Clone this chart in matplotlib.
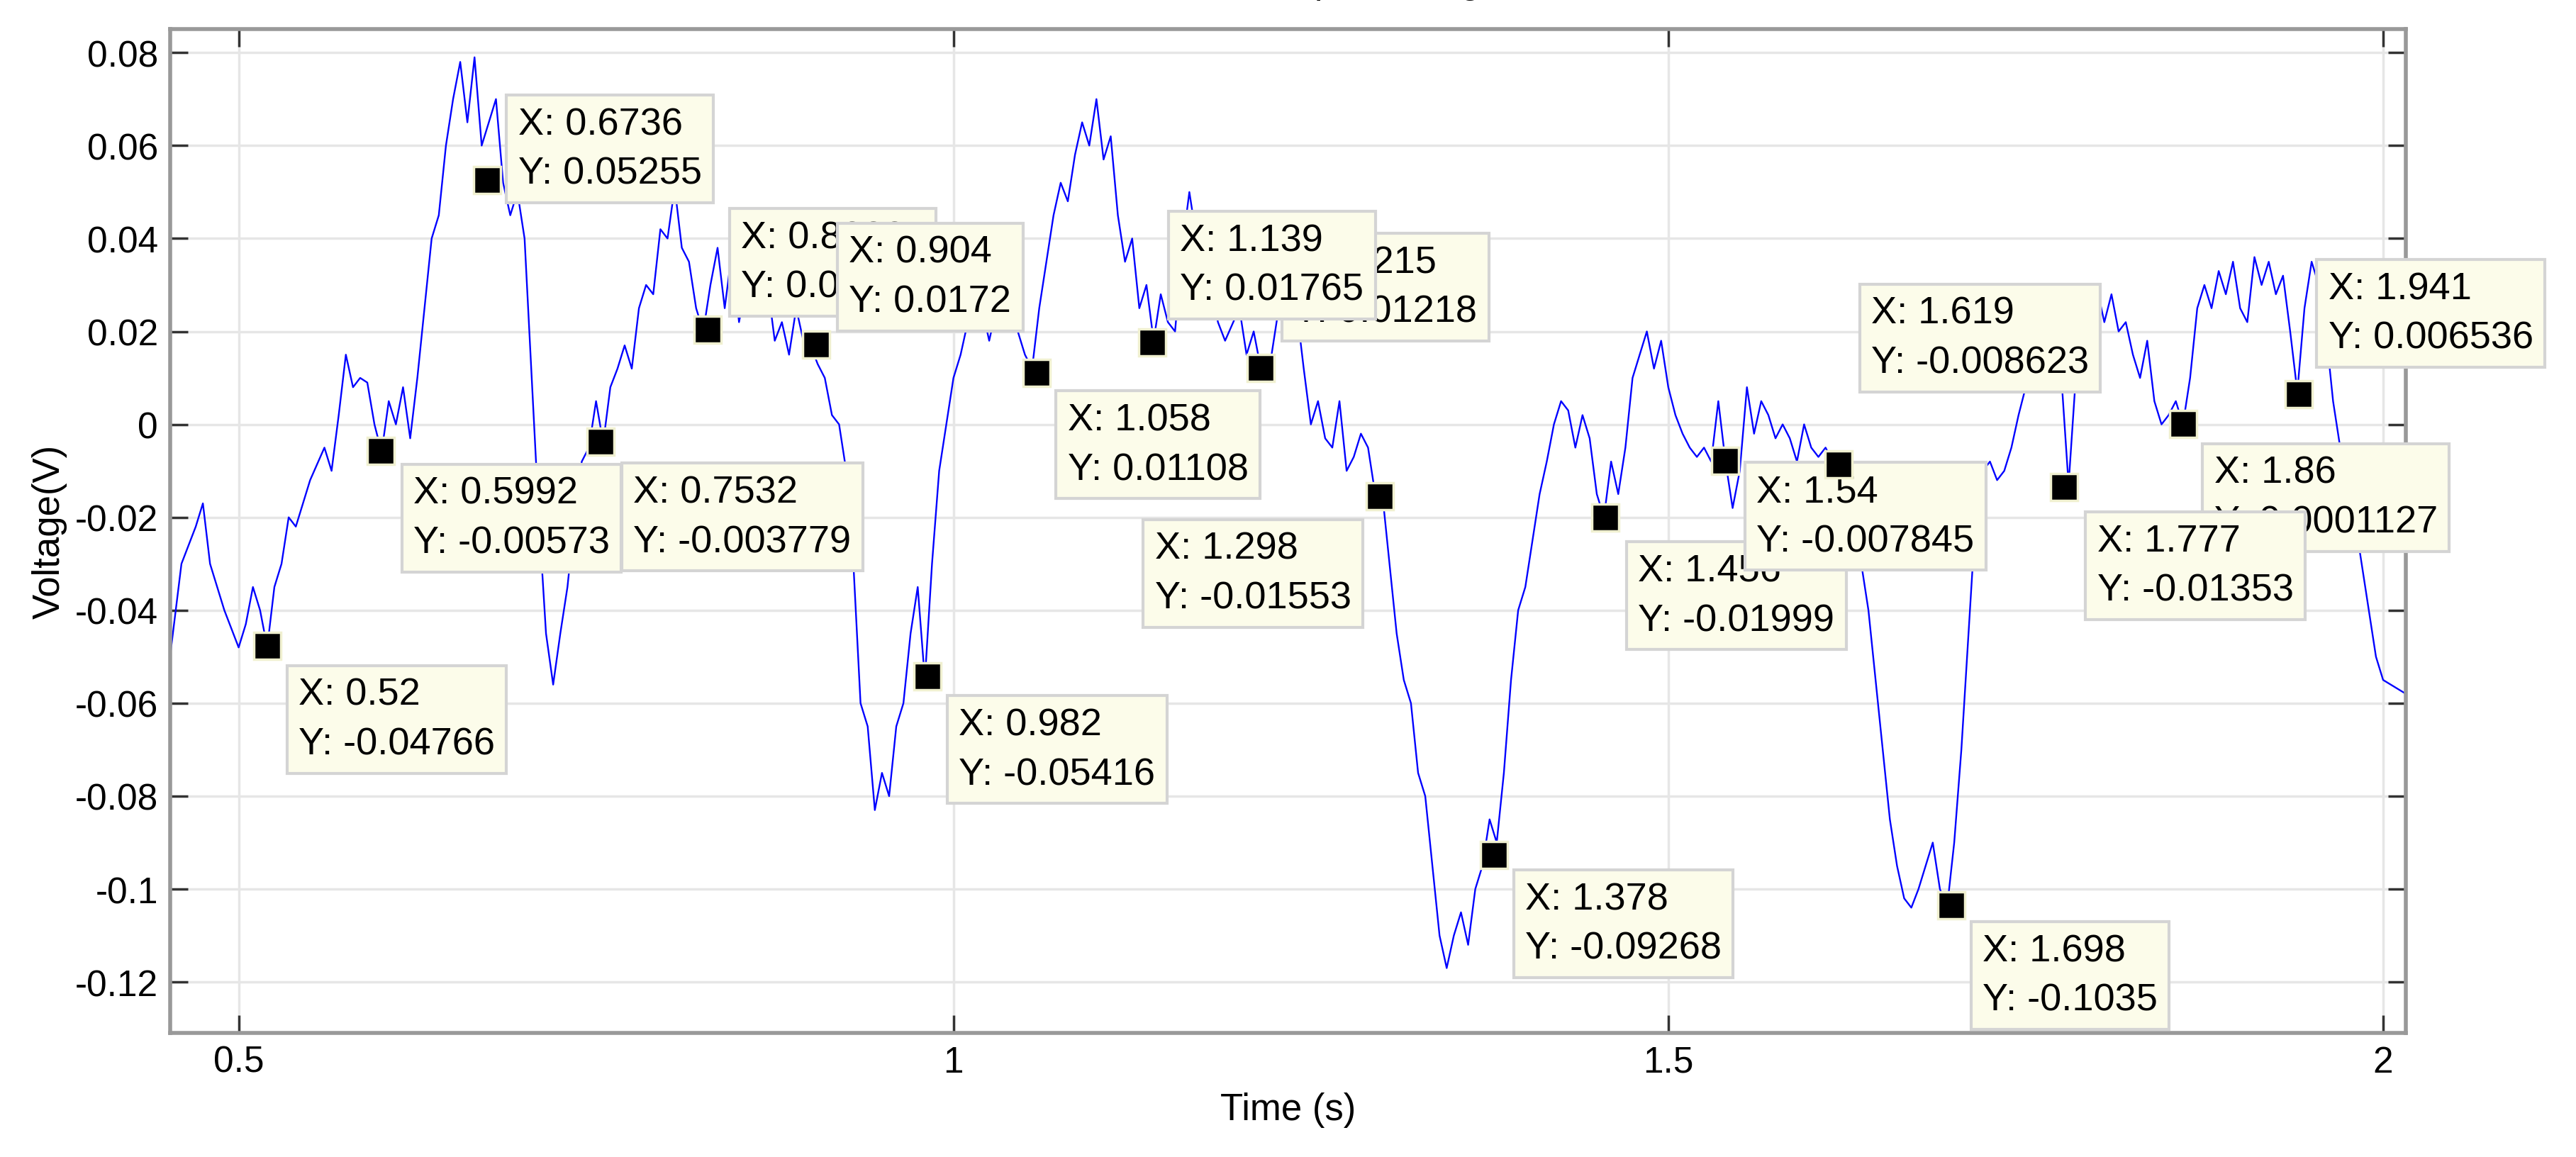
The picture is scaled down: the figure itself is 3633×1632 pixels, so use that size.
import matplotlib
matplotlib.use("Agg")
import matplotlib.pyplot as plt

plt.rcParams['font.family'] = ['Liberation Sans', 'DejaVu Sans']

time_s = [0.452,0.46,0.47,0.475,0.48,0.49,0.50,0.505,0.51,0.515,0.52,0.525,0.53,0.535,0.54,0.55,0.56,0.565,0.57,0.575,0.58,0.585,0.59,0.595,0.60,0.605,0.61,0.615,0.62,0.625,0.63,0.635,0.64,0.645,0.65,0.655,0.66,0.665,0.67,0.675,0.68,0.685,0.69,0.695,0.70,0.705,0.71,0.715,0.72,0.725,0.73,0.735,0.74,0.745,0.75,0.755,0.76,0.765,0.77,0.775,0.78,0.785,0.79,0.795,0.80,0.805,0.81,0.815,0.82,0.825,0.83,0.835,0.84,0.845,0.85,0.855,0.86,0.87,0.875,0.88,0.885,0.89,0.895,0.90,0.905,0.91,0.915,0.92,0.925,0.93,0.935,0.94,0.945,0.95,0.955,0.96,0.965,0.97,0.975,0.98,0.985,0.99,0.995,1.00,1.005,1.01,1.015,1.02,1.025,1.03,1.035,1.04,1.045,1.05,1.055,1.06,1.065,1.07,1.075,1.08,1.085,1.09,1.095,1.10,1.105,1.11,1.115,1.12,1.125,1.13,1.135,1.14,1.145,1.15,1.155,1.16,1.165,1.17,1.175,1.18,1.185,1.19,1.20,1.205,1.21,1.215,1.22,1.225,1.23,1.24,1.245,1.25,1.255,1.26,1.265,1.27,1.275,1.28,1.285,1.29,1.295,1.30,1.305,1.31,1.315,1.32,1.325,1.33,1.335,1.34,1.345,1.35,1.355,1.36,1.365,1.37,1.375,1.38,1.385,1.39,1.395,1.40,1.405,1.41,1.415,1.42,1.425,1.43,1.435,1.44,1.445,1.45,1.455,1.46,1.465,1.47,1.475,1.48,1.485,1.49,1.495,1.50,1.505,1.51,1.515,1.52,1.525,1.53,1.535,1.54,1.545,1.55,1.555,1.56,1.565,1.57,1.575,1.58,1.585,1.59,1.595,1.60,1.605,1.61,1.615,1.62,1.625,1.63,1.635,1.64,1.645,1.65,1.655,1.66,1.665,1.67,1.675,1.68,1.685,1.69,1.695,1.70,1.705,1.71,1.715,1.72,1.725,1.73,1.735,1.74,1.745,1.75,1.755,1.76,1.765,1.77,1.775,1.78,1.785,1.79,1.795,1.80,1.805,1.81,1.815,1.82,1.825,1.83,1.835,1.84,1.845,1.85,1.855,1.86,1.865,1.87,1.875,1.88,1.885,1.89,1.895,1.90,1.905,1.91,1.915,1.92,1.925,1.93,1.935,1.94,1.945,1.95,1.955,1.96,1.965,1.97,1.975,1.98,1.985,1.99,1.995,2.00,2.016]
voltage = [-0.050,-0.030,-0.022,-0.017,-0.030,-0.040,-0.048,-0.043,-0.035,-0.040,-0.048,-0.035,-0.030,-0.020,-0.022,-0.012,-0.005,-0.010,0.002,0.015,0.008,0.010,0.009,0.0,-0.006,0.005,0.0,0.008,-0.003,0.010,0.025,0.040,0.045,0.060,0.070,0.078,0.065,0.079,0.060,0.065,0.070,0.052,0.045,0.050,0.040,0.010,-0.020,-0.045,-0.056,-0.045,-0.035,-0.020,-0.008,-0.005,0.005,-0.004,0.008,0.012,0.017,0.012,0.025,0.030,0.028,0.042,0.040,0.051,0.038,0.035,0.025,0.020,0.030,0.038,0.025,0.037,0.022,0.030,0.025,0.030,0.018,0.022,0.015,0.025,0.018,0.017,0.013,0.010,0.002,0.0,-0.010,-0.030,-0.060,-0.065,-0.083,-0.075,-0.080,-0.065,-0.060,-0.045,-0.035,-0.055,-0.030,-0.010,0.0,0.010,0.015,0.022,0.020,0.025,0.018,0.025,0.022,0.028,0.020,0.015,0.012,0.025,0.035,0.045,0.052,0.048,0.058,0.065,0.060,0.070,0.057,0.062,0.045,0.035,0.040,0.025,0.030,0.018,0.028,0.022,0.020,0.038,0.050,0.040,0.035,0.030,0.022,0.018,0.025,0.015,0.020,0.012,0.010,0.020,0.030,0.025,0.012,0.0,0.005,-0.003,-0.005,0.005,-0.010,-0.007,-0.002,-0.005,-0.015,-0.015,-0.030,-0.045,-0.055,-0.060,-0.075,-0.080,-0.095,-0.110,-0.117,-0.110,-0.105,-0.112,-0.100,-0.095,-0.085,-0.090,-0.075,-0.055,-0.040,-0.035,-0.025,-0.015,-0.008,0.0,0.005,0.003,-0.005,0.002,-0.003,-0.015,-0.020,-0.008,-0.015,-0.005,0.010,0.015,0.020,0.012,0.018,0.008,0.002,-0.002,-0.005,-0.007,-0.005,-0.008,0.005,-0.008,-0.018,-0.010,0.008,-0.002,0.005,0.002,-0.003,0.0,-0.003,-0.008,0.0,-0.005,-0.007,-0.005,-0.008,-0.012,-0.015,-0.025,-0.030,-0.040,-0.055,-0.070,-0.085,-0.095,-0.102,-0.104,-0.100,-0.095,-0.090,-0.100,-0.104,-0.090,-0.070,-0.045,-0.020,-0.010,-0.008,-0.012,-0.010,-0.005,0.002,0.008,0.010,0.020,0.018,0.022,0.010,-0.013,0.010,0.020,0.025,0.029,0.022,0.028,0.020,0.022,0.015,0.010,0.018,0.005,0.000,0.002,0.005,0.0,0.010,0.025,0.030,0.025,0.033,0.028,0.035,0.025,0.022,0.036,0.030,0.035,0.028,0.032,0.020,0.007,0.025,0.035,0.030,0.020,0.005,-0.005,-0.010,-0.020,-0.030,-0.040,-0.050,-0.055,-0.058]

tip_x = [0.52, 0.5992, 0.6736, 0.7532, 0.8283, 0.904, 0.982, 1.058, 1.215, 1.139, 1.298, 1.378, 1.456, 1.54, 1.619, 1.698, 1.86, 1.777, 1.941]
tip_y = [-0.04766, -0.00573, 0.05255, -0.003779, 0.02032, 0.0172, -0.05416, 0.01108, 0.01218, 0.01765, -0.01553, -0.09268, -0.01999, -0.007845, -0.008623, -0.1035, 0.0001127, -0.01353, 0.006536]
tip_x_text = ['0.52', '0.5992', '0.6736', '0.7532', '0.8283', '0.904', '0.982', '1.058', '1.215', '1.139', '1.298', '1.378', '1.456', '1.54', '1.619', '1.698', '1.86', '1.777', '1.941']
tip_y_text = ['-0.04766', '-0.00573', '0.05255', '-0.003779', '0.02032', '0.0172', '-0.05416', '0.01108', '0.01218', '0.01765', '-0.01553', '-0.09268', '-0.01999', '-0.007845', '-0.008623', '-0.1035', '0.0001127', '-0.01353', '0.006536']
# box top-left offsets from marker (reference display px)
box_dx = [12, 13, 12, 13, 13, 13, 12, 12, 13, 10, -144, 12, 13, 12, 13, 12, 12, 13, 11]
box_dy = [12, 8, -52, 13, -74, -74, 12, 11, -82, -80, 14, 9, 15, 1, -110, 10, 12, 15, -82]

fig = plt.figure(figsize=(36.33, 16.33), dpi=100)
ax = fig.add_axes([0.066, 0.107, 0.868, 0.867])
ax.plot(time_s, voltage, color='#0000ff', lw=1.7, zorder=2)
ax.set_xlim(0.452, 2.016)
ax.set_ylim(-0.131, 0.085)
ax.set_xticks([0.5, 1, 1.5, 2])
ax.set_xticklabels(['0.5', '1', '1.5', '2'])
ax.set_yticks([0.08, 0.06, 0.04, 0.02, 0, -0.02, -0.04, -0.06, -0.08, -0.1, -0.12])
ax.set_yticklabels(['0.08', '0.06', '0.04', '0.02', '0', '-0.02', '-0.04', '-0.06', '-0.08', '-0.1', '-0.12'])
ax.grid(True, color='#e6e6e6', lw=2.5)
ax.tick_params(direction='in', length=18, width=2.5, labelsize=37, color='#333333', pad=12, top=True, right=True)
for s in ax.spines.values():
    s.set_color('#999999'); s.set_linewidth(4)
ax.set_xlabel('Time (s)', fontsize=38, labelpad=12)
ax.set_ylabel('Voltage(V)', fontsize=38, labelpad=8)
fig.text(0.535, 1.006, 'Output Voltage', ha='center', va='baseline', fontsize=38)

k = 1.666
for i in range(len(tip_x)):
    ax.plot([tip_x[i]], [tip_y[i]], 's', color='black', mec='#f0f0d0', mew=2.5, ms=28, zorder=10 + 2 * i, clip_on=False)
    ax.annotate('X: %s\nY: %s' % (tip_x_text[i], tip_y_text[i]),
                xy=(tip_x[i], tip_y[i]), xytext=((box_dx[i] + 7) * k, -(box_dy[i] + 7) * k),
                textcoords='offset points', ha='left', va='top', fontsize=39, linespacing=1.5,
                bbox=dict(boxstyle='square,pad=0.3', fc='#fcfcea', ec='#d4d4d4', lw=3),
                zorder=11 + 2 * i, annotation_clip=False)

fig.savefig('out.png', dpi=100)
